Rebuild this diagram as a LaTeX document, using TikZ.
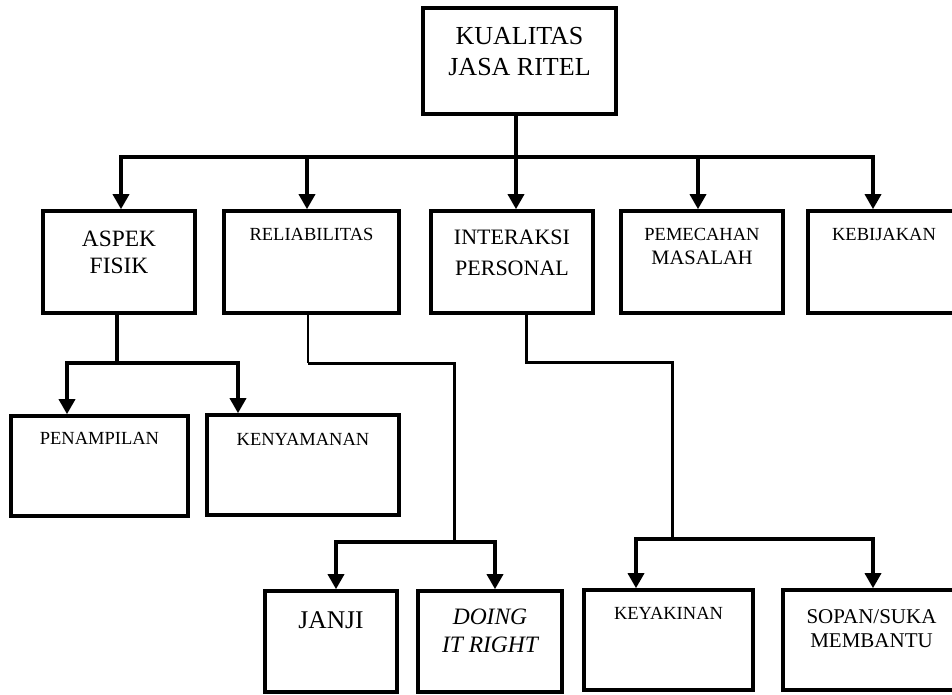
\documentclass[tikz,border=0pt]{standalone}
\usepackage{fontspec}
\setmainfont{Liberation Serif}
\usetikzlibrary{arrows.meta}
\tikzset{
  box/.style={draw, rectangle, line width=3.6pt, inner sep=0pt},
  conn/.style={line width=3.4pt, line cap=rect},
  midconn/.style={line width=3pt, line cap=rect},
  thinconn/.style={line width=1.3pt},
  arr/.style={line width=3.4pt, -{Triangle[width=16pt,length=15pt]}},
  txt/.style={anchor=base, inner sep=0pt},
  fbig/.style={font=\fontsize{26}{26}\selectfont},
  fmed/.style={font=\fontsize{23.4}{23.4}\selectfont},
  fint/.style={font=\fontsize{22}{22}\selectfont},
  fsm/.style={font=\fontsize{18.5}{18.5}\selectfont},
  fsop/.style={font=\fontsize{21}{21}\selectfont},
  fmas/.style={font=\fontsize{20.5}{20.5}\selectfont},
  fjan/.style={font=\fontsize{25.5}{25.5}\selectfont},
  fdo/.style={font=\fontsize{23.5}{23.5}\selectfont\itshape},
}
\begin{document}
\begin{tikzpicture}[x=1pt,y=-1pt]
\useasboundingbox (0,0) rectangle (952,695);
\clip (0,0) rectangle (952,695);
\fill[white] (0,0) rectangle (952,695);

% boxes
\node[box, minimum width=193pt, minimum height=106pt] (top) at (519.5,61) {};
\node[box, minimum width=152pt, minimum height=102pt] (aspek) at (119,262) {};
\node[box, minimum width=175pt, minimum height=102pt] (reli) at (311.5,262) {};
\node[box, minimum width=162pt, minimum height=102pt] (inter) at (512,262) {};
\node[box, minimum width=162pt, minimum height=102pt] (pemec) at (702,262) {};
\node[box, minimum width=152pt, minimum height=102pt] (keb) at (884,262) {};
\node[box, minimum width=177pt, minimum height=100pt] (penamp) at (99.5,466) {};
\node[box, minimum width=192pt, minimum height=100pt] (kenya) at (303,465) {};
\node[box, minimum width=132pt, minimum height=101pt] (janji) at (331,641.5) {};
\node[box, minimum width=144pt, minimum height=101pt] (doing) at (490,641.5) {};
\node[box, minimum width=169pt, minimum height=100pt] (keyak) at (668.5,640) {};
\node[box, minimum width=177pt, minimum height=100pt] (sopan) at (871.5,640) {};

% texts
\node[txt, fbig] (t1) at (519.5,45) {KUALITAS};
\node[txt, fbig] (t2) at (519.5,76) {JASA RITEL};
\node[txt, fmed] (t3) at (119,246) {ASPEK};
\node[txt, fmed] (t4) at (119,273) {FISIK};
\node[txt, fsm] (t5) at (311.5,240) {RELIABILITAS};
\node[txt, fint] (t6) at (512,244) {INTERAKSI};
\node[txt, fint] (t7) at (512,275) {PERSONAL};
\node[txt, fsm] (t8) at (702,240) {PEMECAHAN};
\node[txt, fmas] (t9) at (702,264) {MASALAH};
\node[txt, fsm] (t10) at (884,240) {KEBIJAKAN};
\node[txt, fsm] (t11) at (99.5,444) {PENAMPILAN};
\node[txt, fsm] (t12) at (303,445) {KENYAMANAN};
\node[txt, fjan] (t13) at (331,628) {JANJI};
\node[txt, fdo] (t14) at (490,624) {DOING};
\node[txt, fdo] (t15) at (490,652) {IT RIGHT};
\node[txt, fsm] (t16) at (668.5,619) {KEYAKINAN};
\node[txt, fsop] (t17) at (871.5,623) {SOPAN/SUKA};
\node[txt, fsop] (t18) at (871.5,647) {MEMBANTU};

% level 1 connectors
\coordinate (j0) at (516,157);
\coordinate (d1) at (121,157);
\coordinate (d2) at (307,157);
\coordinate (d4) at (698,157);
\coordinate (d5) at (873,157);
\draw[conn] (top.south -| j0) -- (j0);
\draw[conn] (d1) -- (d5);
\draw[arr] (d1) -- (d1 |- aspek.north);
\draw[arr] (d2) -- (d2 |- reli.north);
\draw[arr] (j0) -- (j0 |- inter.north);
\draw[arr] (d4) -- (d4 |- pemec.north);
\draw[arr] (d5) -- (d5 |- keb.north);

% aspek fisik
\coordinate (a0) at (117,363);
\coordinate (a1) at (67,363);
\coordinate (a2) at (238,363);
\draw[conn] (aspek.south -| a0) -- (a0);
\draw[conn] (a1) -- (a2);
\draw[arr] (a1) -- (a1 |- penamp.north);
\draw[arr] (a2) -- (a2 |- kenya.north);

% reliabilitas
\coordinate (r0) at (308,363);
\coordinate (r1) at (454,363);
\coordinate (r2) at (454,542);
\coordinate (r3) at (336,542);
\coordinate (r4) at (495,542);
\draw[thinconn] (reli.south -| r0) -- (r0);
\draw[midconn, line cap=butt] (r0) -- (r1) -- (r2);
\draw[conn] (r3) -- (r4);
\draw[arr] (r3) -- (r3 |- janji.north);
\draw[arr] (r4) -- (r4 |- doing.north);

% interaksi personal
\coordinate (i0) at (526,362);
\coordinate (i1) at (672,362);
\coordinate (i2) at (672,539);
\coordinate (i3) at (636,539);
\coordinate (i4) at (873,539);
\draw[midconn, line cap=butt] (inter.south -| i0) -- (i0) -- (i1) -- (i2);
\draw[conn] (i3) -- (i4);
\draw[arr] (i3) -- (i3 |- keyak.north);
\draw[arr] (i4) -- (i4 |- sopan.north);
\end{tikzpicture}
\end{document}
